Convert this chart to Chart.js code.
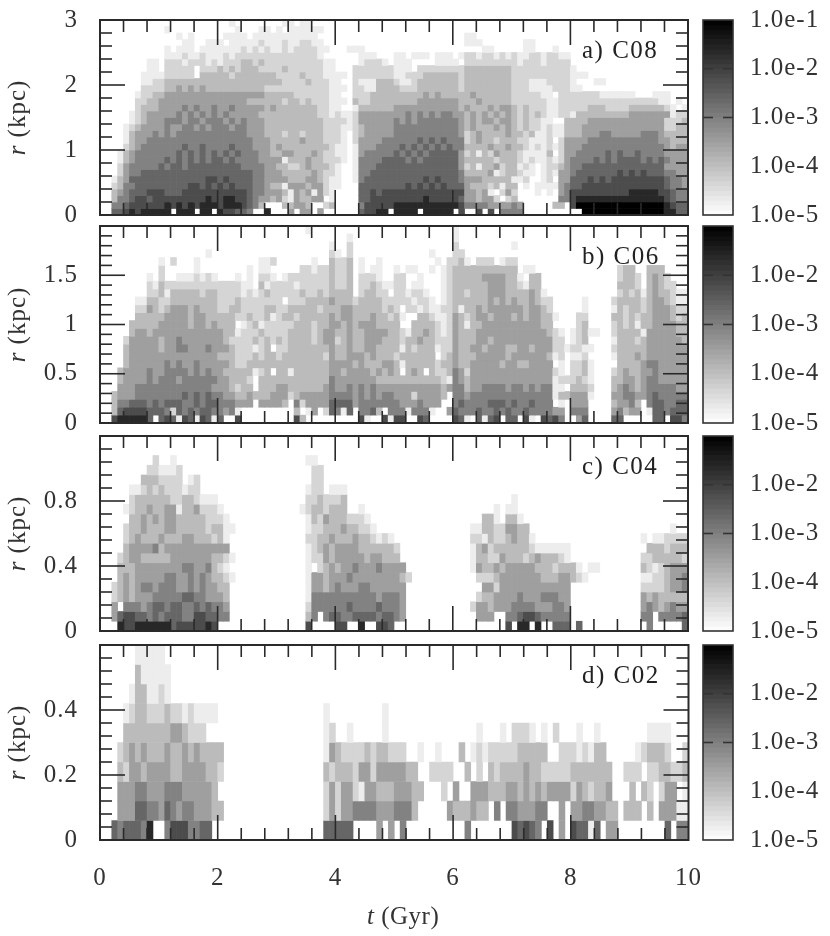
<!DOCTYPE html>
<html>
<head>
<meta charset="utf-8">
<title>r vs t density</title>
<script src="https://cdn.jsdelivr.net/npm/chart.js@4/dist/chart.umd.min.js"></script>
<style>
  body { margin: 0; background: #fff; width: 830px; height: 936px; overflow: hidden; position: relative; }
  canvas { position: absolute; filter: blur(0.6px); }
</style>
</head>
<body>
<script>
// ==================== DATA =====================
// each string is one r bin (top bin first), one digit per 0.1 Gyr time bin, 10 digits per group
// digit = density level, 0 = nothing, 9 = top of the colour bar
const Z = "0000000000";
const rowsA = [
  [Z,Z,"0010000000","0110110000"],
  [Z,"0100000000","0001000110","1011111100"],
  [Z,"0001010000","0111101111","1111111000",Z,Z,"0011000000"],
  [Z,"0000110011","1011111211","1211221100",Z,Z,"0011100000","0011000000"],
  [Z,"0101110111","1111212121","1212222110","0011100000",Z,"0000011000","0011000100"],
  [Z,"0111211211","1212222222","2222222100","0000111000","1101110111","0122122121","2112212211"],
  ["0000000011","0222122212","1222332322","2222222211","0000122210","1110000111","1022222222","2122212222"],
  ["0000000011","0222220222","3232333222","2322222211","0002222222","1110222222","2233333333","2222222222","1000000000"],
  ["0000000111","1222220333","3323333333","2222322211","1102222222","1122233333","3233333333","2222222222","1110000000"],
  ["0000000112","2333333333","3333333333","3222232221","1002111333","2112333333","3233333333","2221112222","1000110000"],
  ["0000000222","2334343433","3333333322","2222222221","1102211333","3222333333","3233333333","2221111222","1100000000"],
  ["0000001223","3444444444","4444444433","3332222221","1002223333","3333343433","3334333333","2222211022","2222211111","1000111000"],
  ["0000002233","4444444444","4444433333","3233232221","1103223333","3333444444","4333433333","2222221122","2222222222","2222211010"],
  ["0000002333","4444545445","4454444434","3333333221","1001333333","4444444444","4343334344","3232221122","2223332222","3333332101"],
  ["0000012344","4445454545","4544444333","3333333221","2112444444","4454545455","4434343434","3232321122","1333333333","4444444122"],
  ["0000012344","4555455455","5454544433","3333333322","2212444444","5454555555","5434344344","3232211003","3334444444","4444442223"],
  ["0000123444","4544554545","5545544433","3333333322","2112344444","5555555555","5434333434","3232212113","3344444444","4444442233"],
  ["0000134445","4545555555","5555544433","3233233322","2102344444","5555555555","5423433334","3323112113","3344455444","4455543333"],
  ["0000134455","5555555555","5555554443","3333433322","2102444455","5555656565","5523433233","3221112024","4445555555","5555544333"],
  ["0000234555","5555655655","5565554443","4333333332","1101444555","5656565656","5533334334","3321212124","4455555555","5555554344"],
  ["0001345555","5556565656","5656555443","3443334322","1101455555","6565656666","6423132433","3211113024","4555556565","5655554444"],
  ["0001345555","5656565656","6565555444","4133343322","2101555566","6656566666","6433333233","3212112124","5555656566","6656565444"],
  ["0002455555","6566566666","6666555544","3322343332","1001555666","6666666666","6423133423","3121012234","5566666666","6666664444"],
  ["0002455666","6666666666","6666665544","4333334322","1001556666","6666666666","6533334123","3211012144","5666666676","7676665544"],
  ["0013466666","6666666677","6766665544","4433344321","1001566666","6666676766","6544433333","1120012044","6667676777","7777776554"],
  ["0023556666","6666677676","7676665543","3144434421","1000666666","6676767676","6643332313","3010111145","6677777777","7777776554"],
  ["0034566677","7666777777","7777765544","4314341421","0000667677","7777777777","7744341024","2000101045","7777777777","8888877655"],
  ["0035567767","7777777787","7887765443","4214334401","0000667777","7777787777","7644344202","3000000055","7888888888","8888887655"],
  ["0055677777","7878787888","7888765300","0334430023","0000577777","8888888888","8755554444","5400000330","7999999999","9999998766"],
  ["0066787888","8808880880","8776650080","0040440400","0000677880","8888088888","0700707055","5500000000","0099999999","9999998866"],
];
const rowsB = [
  [Z,Z,Z,"0000010000",Z,Z,"1000000000"],
  [Z,Z,Z,Z,"0010000000",Z,"1000000000"],
  [Z,Z,Z,"0000000001","0020000000",Z,"2000000000","1000000000"],
  [Z,"0000000010",Z,"0000000002","1020000000","0000001000","2200000000"],
  [Z,"1020001000","0000000112","0000001003","2230100100","0000000102","2310222012","2000000000"],
  [Z,"2000001000","0000010110","0000221223","2230101100","1011001012","3333333333","3011000000","0000000023","3003330000"],
  ["0000000010","2001112121","0001010221","0122222223","2230222100","2200100012","3333344443","3103300000","0000000023","3203432000"],
  ["0000000021","3222222222","2222110312","2221222223","2230223211","2201100012","3333334443","3213300000","0000000033","3203432200"],
  ["0000000022","3133333233","2222121232","2222322323","3330233220","2212210012","3323334443","3334310000","0000000023","2313433211"],
  ["0000001133","2233333333","2223222222","2022233334","3332333322","2221221012","3333334343","4334322000","0010000233","3323443211"],
  ["0000002243","2344434333","2233222233","2233333233","3443333323","2022121122","3133434444","4434432000","0010000132","3323444322"],
  ["0000003333","3444434433","3332232231","2332333334","3443334332","3100332112","4323443444","3434433100","0220000332","3233444323"],
  ["0000033333","4444434434","3330123122","2223332334","4343444333","3003333212","4313344444","4444433000","0230000232","3133444433"],
  ["0000034434","4444444444","4331222322","2233332344","3343344443","3213343212","4333444444","4444443210","1231100233","3314444433"],
  ["0000244444","3445444444","4322223232","3233332344","2343344433","3233433222","4333443444","4444444220","1230000133","3234444443"],
  ["0000344444","3445544454","4432221230","2233333334","3343344333","3132333122","4334434443","3443444221","2211000233","3334444444"],
  ["0000344444","4444444444","3332223233","2333333324","3344434333","2333333023","4333444443","4444443120","1120000133","3434444444"],
  ["0000344444","4545445444","4432233333","3333333334","4443433344","3133333233","4334444434","4334444010","2231000033","3345544444"],
  ["0003444454","4555545454","4333331230","3313333334","4344443434","3034303223","5424444444","4444444210","2231000234","3344544444"],
  ["0003444454","5554555555","4433320333","3333333335","4444444333","3333333321","5434444444","4444444122","2321000334","4345544444"],
  ["0004445555","5555555554","4432330333","4433333345","4454545444","4444444434","5534455554","5545455110","3332000345","4345555544"],
  ["0034445555","5555656565","5443343334","4423444445","5554545455","4442444430","5545555555","5555555133","4441000445","5445655555"],
  ["0035566656","5666556566","5554440444","4305244446","6664555555","5444544400","5655556665","6556555010","4440000344","5305665566"],
  ["0036777766","6526565665","5451000000","0003014026","5160556305","5515551004","6555655656","5565555440","5550000453","4401665666"],
  ["0078888860","6761761761","6007000000","0007300000","0000710071","7700760000","7610616706","6071076750","0460000660","0000660775"],
];
const rowsC = [
  [],
  [],
  ["0000000002","0010000000",Z,"0000011000"],
  ["0000000022","1112000000",Z,"0000002200"],
  ["0000000333","2222012000",Z,"0000002200"],
  ["0000011232","3222122000",Z,"0000012201","1100000000"],
  ["0000023333","3322332111",Z,"0000022322","2300000000",Z,Z,"1000000000"],
  ["0000123343","3441334222","1000000000","0000123323","3300100000",Z,"0000000101","1000000000"],
  ["0000033434","3443333322","2100000000","0000013243","3322210000",Z,"0000033103","3100000000"],
  ["0000233433","3443333323","3110000000","0000012233","3433221000",Z,"0001133224","4330000000",Z,"0000000100"],
  ["0000234333","4333443332","3100000000","0000022334","3334332121",Z,"0002213223","4331000000",Z,"0010112222"],
  ["0000344445","3444444444","4400000000","0000012343","4444333333","2000000000","0001342333","3332111111",Z,"0003332333"],
  ["0002344333","3344444443","3210000000","0000012243","4444434433","3000000000","0001332243","3323433321",Z,"0022333332"],
  ["0003334444","4444554453","2100000000","0000010234","3445444544","4400000000","0001433434","4444333233","3101100000","0032123444"],
  ["0003434444","4554454543","3210000000","0000014434","4454444444","4320000000","0000222344","4444433344","3210000000","0011223445"],
  ["0023434554","5554454544","3300000000","0000014434","5444554444","4400000000","0000044244","4444444444",Z,"0022223445"],
  ["0023434445","5555665544","4300000000","0000015555","5555555455","5400000000","0000233444","4544455544",Z,"0043433333"],
  ["0040555456","6566556565","5400000000","0000025555","5565555655","5400000000","0002443444","5555444554",Z,"0045434544"],
  ["0046776656","5666557766","5500000000","0000035056","6556666566","5400000000","0000444005","5677655555",Z,"0055055556"],
  ["0008778888","8867777787",Z,"0000070000","7700800776",Z,"0000000007","0880800666","0600000000","0005000006"],
];
const rowsD = [
  ["0000001111","1000000000"],
  ["0000003111","1100000000"],
  ["0000013311","2100000000"],
  ["0000123322","2322121111",Z,"0000000010","0000000010"],
  ["0000333333","3344322200",Z,"0000000012","0010000010",Z,"0000100010","2221010200","0100100000","0001111000"],
  ["0002343433","3433434333","3000000000","0000000014","3222232332","2200100100","0301212222","2333330022","2121330000","0123332002"],
  ["0003244344","4433444433","2000000000","0000000032","3332442444","4433002222","0030203233","3343322222","3333333002","2202233223"],
  ["0004445544","4555444443",Z,"0000000024","2442144333","4443300020","4004443334","4343434444","2432334000","3032024401"],
  ["0004446655","4654554443","3000000000","0000000024","2445555444","5553000004","3334330505","5444550040","4455443303","3303044411"],
  ["0065666580","0577755660",Z,"0000000066","6660000404","0500000000","0050000000","7676507040","7661604400","0000006055"],
];
const panelNames = ["a) C08", "b) C06", "c) C04", "d) C02"];
const panelRows = [rowsA, rowsB, rowsC, rowsD];
const rMax = [3, 2, 1.2, 0.6];
const rLabelTicks = [
  [0, 1, 2, 3],
  [0, 0.5, 1, 1.5],
  [0, 0.4, 0.8],
  [0, 0.2, 0.4],
];
const rMajorTicks = [
  [1, 2],
  [0.5, 1, 1.5],
  [0.4, 0.8],
  [0.2, 0.4],
];
const rMinorTicks = [
  [0.2, 0.4, 0.6, 0.8, 1.2, 1.4, 1.6, 1.8, 2.2, 2.4, 2.6, 2.8],
  [0.1, 0.2, 0.3, 0.4, 0.6, 0.7, 0.8, 0.9, 1.1, 1.2, 1.3, 1.4, 1.6, 1.7, 1.8, 1.9],
  [0.08, 0.16, 0.24, 0.32, 0.48, 0.56, 0.64, 0.72, 0.88, 0.96, 1.04, 1.12],
  [0.04, 0.08, 0.12, 0.16, 0.24, 0.28, 0.32, 0.36, 0.44, 0.48, 0.52, 0.56],
];
const tMajorTicks = [2, 4, 6, 8];
const tMinorTicks = [0.4, 0.8, 1.2, 1.6, 2.4, 2.8, 3.2, 3.6, 4.4, 4.8, 5.2, 5.6, 6.4, 6.8, 7.2, 7.6, 8.4, 8.8, 9.2, 9.6];
// colour bar: log10 density steps, top to bottom
const barLevels = [-1, -1.1, -1.2, -1.3, -1.4, -1.5, -1.6, -1.7, -1.8, -1.9, -2, -2.1, -2.2, -2.3, -2.4, -2.5, -2.6, -2.7, -2.8, -2.9, -3, -3.1, -3.2, -3.3, -3.4, -3.5, -3.6, -3.7, -3.8, -3.9, -4, -4.1, -4.2, -4.3, -4.4, -4.5, -4.6, -4.7, -4.8, -4.9];
const barLabelTicks = [
  [-5, -4, -3, -2, -1],
  [-5, -4, -3, -2],
  [-5, -4, -3, -2],
  [-5, -4, -3, -2],
];
const barTicks = [-2, -3];

// =============== LAYOUT ================
const panelTop = [20, 226, 436, 645];
const panelBottom = [215, 423, 631, 840];
const FONT = "'Liberation Serif', serif";
const INK = "#2a2a2a";
const levelGrays = [255, 237, 213, 187, 159, 130, 102, 76, 40, 0];
Chart.defaults.font.family = FONT;
Chart.defaults.font.size = 25;
Chart.defaults.color = "#333";
Chart.defaults.animation = false;

function grayOf(logRho) {
  const g = Math.round(255 * (-1 - logRho) / 4);
  return `rgb(${g},${g},${g})`;
}
function levelColor(d) {
  const g = levelGrays[d];
  return `rgb(${g},${g},${g})`;
}

function spaced(chart) {
  chart.ctx.letterSpacing = "1px";
}

function seg(ctx, x0, y0, x1, y1) {
  ctx.beginPath();
  ctx.moveTo(x0, y0);
  ctx.lineTo(x1, y1);
  ctx.stroke();
}

// inward ticks, frame and the panel texts
function panelPlugin(i) {
  return {
    id: "panelDecor",
    beforeDraw: spaced,
    afterDatasetsDraw(chart) {
      const { ctx, chartArea: a, scales } = chart;
      ctx.save();
      ctx.strokeStyle = INK;
      ctx.lineWidth = 1.6;
      const tick = (v, len) => {
        const x = scales.x.getPixelForValue(v);
        seg(ctx, x, a.top, x, a.top + len);
        seg(ctx, x, a.bottom, x, a.bottom - len);
      };
      tMinorTicks.forEach((v) => tick(v, 12));
      tMajorTicks.forEach((v) => tick(v, 25));
      const rtick = (v, len) => {
        const y = scales.y.getPixelForValue(v);
        seg(ctx, a.left, y, a.left + len, y);
        seg(ctx, a.right, y, a.right - len, y);
      };
      rMinorTicks[i].forEach((v) => rtick(v, 12));
      rMajorTicks[i].forEach((v) => rtick(v, 25));
      ctx.lineWidth = 2;
      ctx.strokeRect(a.left, a.top, a.right - a.left, a.bottom - a.top);
      // panel name
      ctx.fillStyle = "#222";
      ctx.textAlign = "left";
      ctx.textBaseline = "middle";
      ctx.font = `25px ${FONT}`;
      ctx.letterSpacing = "1.5px";
      ctx.fillText(panelNames[i], 582, a.top + 31);
      // r (kpc), italic r
      ctx.letterSpacing = "1px";
      ctx.translate(18, (a.top + a.bottom) / 2);
      ctx.rotate(-Math.PI / 2);
      ctx.font = `italic 25px ${FONT}`;
      const w0 = ctx.measureText("r").width;
      ctx.textAlign = "left";
      ctx.font = `25px ${FONT}`;
      const w1 = ctx.measureText(" (kpc)").width;
      ctx.font = `italic 25px ${FONT}`;
      ctx.fillStyle = "#333";
      ctx.fillText("r", -(w0 + w1) / 2, 0);
      ctx.font = `25px ${FONT}`;
      ctx.fillText(" (kpc)", -(w0 + w1) / 2 + w0, 0);
      ctx.restore();
      if (i === 3) {
        ctx.save();
        ctx.fillStyle = "#333";
        ctx.textBaseline = "middle";
        ctx.textAlign = "left";
        ctx.letterSpacing = "0.5px";
        ctx.font = `italic 25px ${FONT}`;
        ctx.fillText("t", 367, a.bottom + 77);
        const tw = ctx.measureText("t").width;
        ctx.font = `25px ${FONT}`;
        ctx.fillText(" (Gyr)", 367 + tw, a.bottom + 77);
        ctx.restore();
      }
    },
  };
}

function barPlugin() {
  return {
    id: "barDecor",
    beforeDraw: spaced,
    afterDatasetsDraw(chart) {
      const { ctx, chartArea: a, scales } = chart;
      ctx.save();
      ctx.strokeStyle = "#333";
      ctx.lineWidth = 1.6;
      barTicks.forEach((v) => {
        const y = scales.y.getPixelForValue(v);
        seg(ctx, a.left, y, a.left + 10, y);
        seg(ctx, a.right, y, a.right - 10, y);
      });
      ctx.strokeRect(a.left, a.top, a.right - a.left, a.bottom - a.top);
      ctx.restore();
    },
  };
}

function addCanvas(left, top, width, height) {
  const c = document.createElement("canvas");
  c.width = width;
  c.height = height;
  c.style.left = left + "px";
  c.style.top = top + "px";
  c.style.width = width + "px";
  c.style.height = height + "px";
  document.body.appendChild(c);
  return c;
}

// the layout adds its own margins, so grow the canvas and move it until the plot area sits on the panel
function fitArea(chart, top, bottom) {
  for (let n = 0; n < 3; n++) {
    const a = chart.chartArea;
    const h = chart.height + (bottom - top) - (a.bottom - a.top);
    chart.canvas.style.height = h + "px";
    chart.resize(chart.width, h);
    chart.update();
  }
  chart.canvas.style.top = top - chart.chartArea.top + "px";
}

// ============== HEAT PANELS ===============
function buildDatasets(rows, top) {
  const dr = top / rows.length;
  return rows.map((groups, k) => {
    const digits = groups.join("");
    const data = [];
    for (let c = 0; c < digits.length; c++) {
      const d = +digits[c];
      if (d === 0) continue;
      const lo = (rows.length - 1 - k) * dr;
      data.push({ x: c * 0.1 + 0.05, y: [lo, lo + dr], level: d });
    }
    return {
      data,
      grouped: false,
      barPercentage: 1,
      categoryPercentage: 1,
      borderWidth: 0,
      backgroundColor: (ctx) => levelColor(ctx.raw ? ctx.raw.level : 0),
    };
  });
}

panelRows.forEach((rows, i) => {
  const last = i === 3;
  const top = panelTop[i] - 15;
  const h = last ? 936 - top : panelBottom[i] - panelTop[i] + 30;
  // the "10" label takes a few more px on the right of the last panel
  const canvas = addCanvas(0, top, last ? 724 : 720, h);
  const chart = new Chart(canvas, {
    type: "bar",
    data: { datasets: buildDatasets(rows, rMax[i]) },
    plugins: [panelPlugin(i)],
    options: {
      responsive: false,
      maintainAspectRatio: false,
      layout: { padding: { top: 15, bottom: last ? 0 : 15, left: 0, right: 32 } },
      plugins: { legend: { display: false }, tooltip: { enabled: false } },
      scales: {
        x: {
          type: "linear",
          min: 0,
          max: 10,
          offset: false,
          display: last,
          grid: { display: false, drawTicks: false, offset: false },
          border: { display: false },
          ticks: { stepSize: 2, padding: 23, maxRotation: 0 },
          afterFit: (s) => { s.height = last ? 96 : 0; },
        },
        y: {
          type: "linear",
          min: 0,
          max: rMax[i],
          grid: { display: false, drawTicks: false },
          border: { display: false },
          afterBuildTicks: (s) => { s.ticks = rLabelTicks[i].map((v) => ({ value: v })); },
          ticks: { padding: 22, autoSkip: false, maxRotation: 0, callback: (v) => String(v) },
          afterFit: (s) => { s.width = 100; },
        },
      },
    },
  });
  fitArea(chart, panelTop[i], panelBottom[i]);
});

// ============== COLOUR BARS ===============
barLabelTicks.forEach((labels, i) => {
  const canvas = addCanvas(695, panelTop[i] - 15, 135, panelBottom[i] - panelTop[i] + 30);
  const chart = new Chart(canvas, {
    type: "bar",
    data: {
      labels: [""],
      datasets: barLevels.map((v) => ({
        data: [[v - 0.1, v]],
        grouped: false,
        barPercentage: 1,
        categoryPercentage: 1,
        borderWidth: 0,
        backgroundColor: grayOf(v - 0.05),
      })),
    },
    plugins: [barPlugin()],
    options: {
      responsive: false,
      maintainAspectRatio: false,
      layout: { padding: { top: 15, bottom: 15, left: 8, right: 0 } },
      plugins: { legend: { display: false }, tooltip: { enabled: false } },
      scales: {
        x: { display: false },
        y: {
          position: "right",
          min: -5,
          max: -1,
          grid: { display: false, drawTicks: false },
          border: { display: false },
          afterBuildTicks: (s) => { s.ticks = labels.map((v) => ({ value: v })); },
          ticks: { padding: 17, autoSkip: false, maxRotation: 0, callback: (v) => "1.0e" + v },
          afterFit: (s) => { s.width = 97; },
        },
      },
    },
  });
  fitArea(chart, panelTop[i], panelBottom[i]);
});
</script>
</body>
</html>
